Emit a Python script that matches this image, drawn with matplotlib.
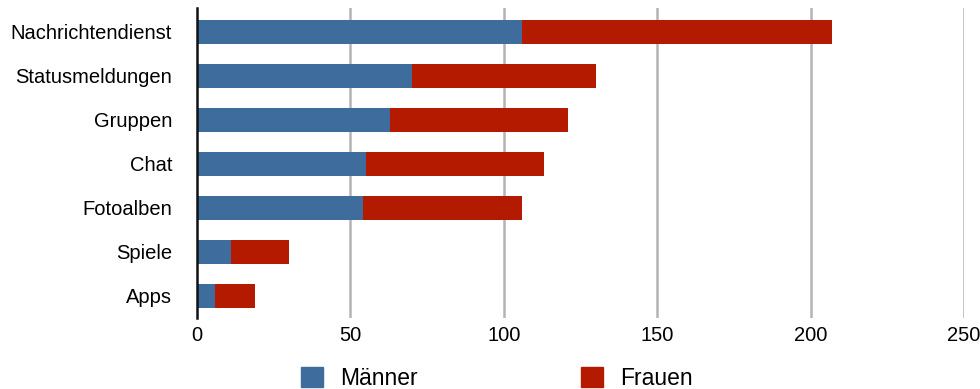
import matplotlib.pyplot as plt
import numpy as np
from matplotlib.patches import Patch

plt.rcParams['font.family'] = ['Liberation Sans', 'DejaVu Sans']

categories = ["Nachrichtendienst", "Statusmeldungen", "Gruppen", "Chat",
              "Fotoalben", "Spiele", "Apps"]
maenner = [106, 70, 63, 55, 54, 11, 6]
frauen = [101, 60, 58, 58, 52, 19, 13]
x_ticks = [0, 50, 100, 150, 200, 250]

blue = '#3d6c9d'
red = '#b41a00'

fig = plt.figure(figsize=(9.8, 3.89), dpi=100)
ax = fig.add_axes([197 / 980, 1 - 318 / 389, (964 - 197) / 980, 310 / 389])

y = np.arange(len(categories))
bar_h = 0.545
ax.barh(y, maenner, height=bar_h, color=blue, zorder=3)
ax.barh(y, frauen, left=maenner, height=bar_h, color=red, zorder=3)

ax.set_xlim(0, 250)
ax.set_ylim(len(categories) - 0.5, -0.545)
ax.set_yticks(y)
ax.set_yticklabels(categories, fontsize=14.5)
ax.set_xticks(x_ticks)
ax.set_xticklabels([str(t) for t in x_ticks], fontsize=14.5)
ax.tick_params(axis='y', length=0, pad=18)
ax.tick_params(axis='x', length=0, pad=6)

# vertical gridlines except at zero, where the spine sits
for t in x_ticks[1:]:
    ax.axvline(t, color='#b4b4b4', linewidth=1.8, zorder=1)

for side in ['top', 'right', 'bottom']:
    ax.spines[side].set_visible(False)
ax.spines['left'].set_color('#111111')
ax.spines['left'].set_linewidth(1.8)
ax.spines['left'].set_zorder(4)

handles = [Patch(color=blue, label='Männer'), Patch(color=red, label='Frauen')]
fig.legend(handles=handles, loc='center', bbox_to_anchor=(0.507, 0.028),
           ncol=2, frameon=False, fontsize=16.5, handlelength=0.96, handleheight=0.96,
           columnspacing=7.1, handletextpad=0.75, borderpad=0, borderaxespad=0)

fig.savefig('out.png', dpi=100)
